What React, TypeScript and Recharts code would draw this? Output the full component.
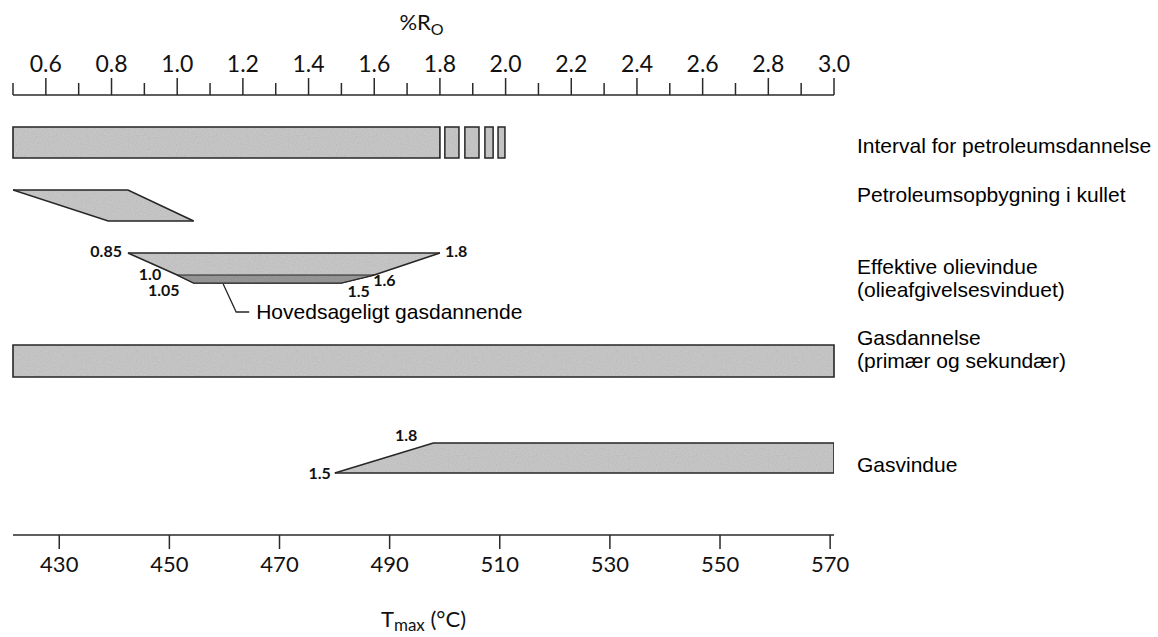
import React from "react";
import {
  ComposedChart,
  XAxis,
  YAxis,
  Area,
  ReferenceArea,
  ReferenceDot,
} from "recharts";

const CHART_WIDTH = 1158;
const CHART_HEIGHT = 637;

// %Ro-akse (top)
const RO_TICKS = [
  0.5, 0.6, 0.7, 0.8, 0.9, 1.0, 1.1, 1.2, 1.3, 1.4, 1.5, 1.6, 1.7, 1.8, 1.9,
  2.0, 2.1, 2.2, 2.3, 2.4, 2.5, 2.6, 2.7, 2.8, 2.9, 3.0,
];
const RO_LABELED = [0.6, 0.8, 1.0, 1.2, 1.4, 1.6, 1.8, 2.0, 2.2, 2.4, 2.6, 2.8, 3.0];

// Tmax-akse (bund)
const TMAX_TICKS = [430, 450, 470, 490, 510, 530, 550, 570];

// Interval for petroleumsdannelse
const INTERVAL_MAIN = [0.5, 1.8];
const INTERVAL_BLOCKS = [
  [1.815, 1.858],
  [1.876, 1.919],
  [1.937, 1.962],
  [1.977, 1.998],
];

// Petroleumsopbygning i kullet (parallelogram)
const BUILDUP_TOP = [0.5, 0.85];
const BUILDUP_BOTTOM = [0.79, 1.05];

// Effektive olievindue
const OIL_TOP = [0.85, 1.8];
const OIL_SHELF = [1.0, 1.6];
const OIL_BOTTOM = [1.05, 1.5];
const GAS_LEADER_RO = 1.14;

// Gasdannelse
const GAS_FORMATION = [0.5, 3.0];

// Gasvindue
const GAS_WINDOW = [1.48, 1.78, 3.0];
const GAS_WINDOW_TEXT = ["1.5", "1.8"];

const LANE_LABELS = [
  ["Interval for petroleumsdannelse"],
  ["Petroleumsopbygning i kullet"],
  ["Effektive olievindue", "(olieafgivelsesvinduet)"],
  ["Gasdannelse", "(primær og sekundær)"],
  ["Gasvindue"],
];

// layout: lodret placering i "bane"-enheder (0 = top-akse, 44 = bund-akse)
const LANE = {
  interval: [3.2, 6.3],
  buildup: [9.5, 12.6],
  oil: [15.8, 18.0, 18.8],
  gasForm: [25.0, 28.2],
  gasWin: [34.8, 37.8],
};
const LABEL_POS = [5.2, 10.1, 17.3, 24.4, 37.1];

const FILL = "url(#grain)";
const DARK_FILL = "url(#grainDark)";
const EDGE = "#262626";
const AXIS = "#2a2a2a";
const NUM_FONT = "Lato, 'Open Sans', sans-serif";
const TEXT_FONT = "'Liberation Sans', Arial, sans-serif";

// ranged area data (lo, hi) for the polygons
const [bTop, bBot] = LANE.buildup;
const buildupData = [
  { ro: BUILDUP_TOP[0], band: [bTop, bTop] },
  { ro: BUILDUP_BOTTOM[0], band: [bBot, bTop] },
  { ro: BUILDUP_TOP[1], band: [bBot, bTop] },
  { ro: BUILDUP_BOTTOM[1], band: [bBot, bBot] },
];

const [oTop, oMid, oBot] = LANE.oil;
const oilData = [
  { ro: OIL_TOP[0], band: [oTop, oTop] },
  { ro: OIL_SHELF[0], band: [oMid, oTop] },
  { ro: OIL_BOTTOM[0], band: [oBot, oTop] },
  { ro: OIL_BOTTOM[1], band: [oBot, oTop] },
  { ro: OIL_SHELF[1], band: [oMid, oTop] },
  { ro: OIL_TOP[1], band: [oTop, oTop] },
];
const gasBandData = [
  { ro: OIL_SHELF[0], band: [oMid, oMid] },
  { ro: OIL_BOTTOM[0], band: [oBot, oMid] },
  { ro: OIL_BOTTOM[1], band: [oBot, oMid] },
  { ro: OIL_SHELF[1], band: [oMid, oMid] },
];

const [gTop, gBot] = LANE.gasWin;
const gasWindowData = [
  { ro: GAS_WINDOW[0], band: [gBot, gBot] },
  { ro: GAS_WINDOW[1], band: [gBot, gTop] },
  { ro: GAS_WINDOW[2], band: [gBot, gTop] },
  { ro: GAS_WINDOW[2], band: [gBot, gBot] },
];

// talmærker ved hjørnerne
const NOTES = [
  { ro: OIL_TOP[0], y: oTop, text: "0.85", anchor: "end", dx: -6, dy: 0 },
  { ro: OIL_TOP[1], y: oTop, text: "1.8", anchor: "start", dx: 5, dy: 0 },
  { ro: OIL_SHELF[0], y: oMid, text: "1.0", anchor: "end", dx: -16, dy: 1 },
  { ro: OIL_BOTTOM[0], y: oBot, text: "1.05", anchor: "end", dx: -14, dy: 9 },
  { ro: OIL_BOTTOM[1], y: oBot, text: "1.5", anchor: "start", dx: 6, dy: 10 },
  { ro: OIL_SHELF[1], y: oMid, text: "1.6", anchor: "start", dx: -1, dy: 7 },
  { ro: GAS_WINDOW[0], y: gBot, text: GAS_WINDOW_TEXT[0], anchor: "end", dx: -4, dy: 2 },
  { ro: GAS_WINDOW[1], y: gTop, text: GAS_WINDOW_TEXT[1], anchor: "end", dx: -16, dy: -6 },
];

function RoTick(props: any) {
  const { x, y, payload } = props;
  const v = payload.value;
  const major = RO_LABELED.some((m) => Math.abs(m - v) < 1e-6);
  return (
    <g>
      <line x1={x} y1={y} x2={x} y2={y - (major ? 17 : 12)} stroke={AXIS} strokeWidth={1.5} />
      {major && (
        <text x={x} y={y - 23} textAnchor="middle" fontFamily={NUM_FONT} fontSize={23} fill="#111">
          {v.toFixed(1)}
        </text>
      )}
    </g>
  );
}

function TmaxTick(props: any) {
  const { x, y, payload } = props;
  return (
    <g>
      <line x1={x} y1={y} x2={x} y2={y + 14} stroke={AXIS} strokeWidth={1.5} />
      <text x={x} y={y + 37} textAnchor="middle" fontFamily={NUM_FONT} fontSize={22} fill="#111">
        {payload.value}
      </text>
    </g>
  );
}

function LaneTick(props: any) {
  const { x, y, payload } = props;
  const idx = LABEL_POS.indexOf(payload.value);
  const lines = LANE_LABELS[idx] || [];
  return (
    <g>
      {lines.map((line, i) => (
        <text
          key={i}
          x={x + 23}
          y={y + i * 23}
          dominantBaseline="middle"
          fontFamily={TEXT_FONT}
          fontSize={21}
          fill="#000"
        >
          {line}
        </text>
      ))}
    </g>
  );
}

function RoTitle(props: any) {
  const vb = props.viewBox || { x: 13, y: 0, width: 821, height: 95 };
  return (
    <text x={vb.x + vb.width / 2 - 2} y={vb.y + 30} textAnchor="middle" fontFamily={NUM_FONT} fontSize={22} fill="#111">
      <tspan>%R</tspan>
      <tspan dy={5} fontSize={16}>O</tspan>
    </text>
  );
}

function TmaxTitle(props: any) {
  const vb = props.viewBox || { x: 13, y: 535, width: 821, height: 102 };
  return (
    <text x={vb.x + vb.width / 2} y={vb.y + 92} textAnchor="middle" fontFamily={NUM_FONT} fontSize={22} fill="#111">
      <tspan>T</tspan>
      <tspan dy={4} fontSize={17}>max</tspan>
      <tspan dy={-4}> (°C)</tspan>
    </text>
  );
}

function Note(note: (typeof NOTES)[number]) {
  return (p: any) => (
    <text
      x={p.cx + note.dx}
      y={p.cy + note.dy}
      textAnchor={note.anchor}
      dominantBaseline="middle"
      fontFamily={NUM_FONT}
      fontWeight="bold"
      fontSize={16}
      fill="#111"
    >
      {note.text}
    </text>
  );
}

function Leader(p: any) {
  const { cx, cy } = p;
  return (
    <g>
      <path
        d={`M${cx},${cy + 1} L${cx + 13},${cy + 29} L${cx + 26},${cy + 29}`}
        fill="none"
        stroke={EDGE}
        strokeWidth={1.3}
      />
      <text x={cx + 33} y={cy + 30} dominantBaseline="middle" fontFamily={TEXT_FONT} fontSize={21} fill="#000">
        Hovedsageligt gasdannende
      </text>
    </g>
  );
}

export default function App() {
  return (
    <div style={{ position: "absolute", left: 0, top: 0 }}>
      <ComposedChart
        width={CHART_WIDTH}
        height={CHART_HEIGHT}
        margin={{ top: 0, right: 0, bottom: 0, left: 13 }}
      >
        <defs>
          <filter id="noise" x="0" y="0" width="100%" height="100%">
            <feTurbulence type="fractalNoise" baseFrequency="0.85" numOctaves="2" seed="4" />
            <feColorMatrix type="saturate" values="0" />
          </filter>
          <pattern id="grain" width="160" height="160" patternUnits="userSpaceOnUse">
            <rect width="160" height="160" fill="#c4c4c4" />
            <rect width="160" height="160" filter="url(#noise)" opacity="0.3" />
          </pattern>
          <pattern id="grainDark" width="160" height="160" patternUnits="userSpaceOnUse">
            <rect width="160" height="160" fill="#8e8e8e" />
            <rect width="160" height="160" filter="url(#noise)" opacity="0.25" />
          </pattern>
        </defs>
        <XAxis
          xAxisId="ro"
          orientation="top"
          type="number"
          dataKey="ro"
          domain={[0.5, 3.0]}
          allowDataOverflow
          ticks={RO_TICKS}
          interval={0}
          height={95}
          tickSize={0}
          tickMargin={0}
          tickLine={false}
          tick={<RoTick />}
          axisLine={{ stroke: AXIS, strokeWidth: 1.5 }}
          label={(p: any) => <RoTitle {...p} />}
        />
        <XAxis
          xAxisId="t"
          orientation="bottom"
          type="number"
          dataKey="t"
          domain={[421.6, 570.7]}
          allowDataOverflow
          ticks={TMAX_TICKS}
          interval={0}
          height={102}
          tickSize={0}
          tickMargin={0}
          tickLine={false}
          tick={<TmaxTick />}
          axisLine={{ stroke: AXIS, strokeWidth: 1.5 }}
          label={(p: any) => <TmaxTitle {...p} />}
        />
        <YAxis
          yAxisId="lane"
          orientation="right"
          type="number"
          domain={[0, 44]}
          reversed
          allowDataOverflow
          ticks={LABEL_POS}
          interval={0}
          width={324}
          tickSize={0}
          tickMargin={0}
          tickLine={false}
          axisLine={false}
          tick={<LaneTick />}
        />

        {/* Interval for petroleumsdannelse */}
        <ReferenceArea
          xAxisId="ro"
          yAxisId="lane"
          x1={INTERVAL_MAIN[0]}
          x2={INTERVAL_MAIN[1]}
          y1={LANE.interval[0]}
          y2={LANE.interval[1]}
          fill={FILL}
          fillOpacity={1}
          stroke={EDGE}
          strokeWidth={1.6}
          ifOverflow="visible"
        />
        {INTERVAL_BLOCKS.map(([a, b], i) => (
          <ReferenceArea
            key={i}
            xAxisId="ro"
            yAxisId="lane"
            x1={a}
            x2={b}
            y1={LANE.interval[0]}
            y2={LANE.interval[1]}
            fill={FILL}
            fillOpacity={1}
            stroke={EDGE}
            strokeWidth={1.5}
            ifOverflow="visible"
          />
        ))}

        {/* Petroleumsopbygning i kullet */}
        <Area
          xAxisId="ro"
          yAxisId="lane"
          data={buildupData}
          dataKey="band"
          type="linear"
          fill={FILL}
          fillOpacity={1}
          stroke={EDGE}
          strokeWidth={1.6}
          dot={false}
          activeDot={false}
          isAnimationActive={false}
        />

        {/* Effektive olievindue */}
        <Area
          xAxisId="ro"
          yAxisId="lane"
          data={oilData}
          dataKey="band"
          type="linear"
          fill={FILL}
          fillOpacity={1}
          stroke={EDGE}
          strokeWidth={1.6}
          dot={false}
          activeDot={false}
          isAnimationActive={false}
        />
        <Area
          xAxisId="ro"
          yAxisId="lane"
          data={gasBandData}
          dataKey="band"
          type="linear"
          fill={DARK_FILL}
          fillOpacity={1}
          stroke={EDGE}
          strokeWidth={1.2}
          dot={false}
          activeDot={false}
          isAnimationActive={false}
        />

        {/* Gasdannelse */}
        <ReferenceArea
          xAxisId="ro"
          yAxisId="lane"
          x1={GAS_FORMATION[0]}
          x2={GAS_FORMATION[1]}
          y1={LANE.gasForm[0]}
          y2={LANE.gasForm[1]}
          fill={FILL}
          fillOpacity={1}
          stroke={EDGE}
          strokeWidth={1.6}
          ifOverflow="visible"
        />

        {/* Gasvindue */}
        <Area
          xAxisId="ro"
          yAxisId="lane"
          data={gasWindowData}
          dataKey="band"
          type="linear"
          fill={FILL}
          fillOpacity={1}
          stroke={EDGE}
          strokeWidth={1.6}
          dot={false}
          activeDot={false}
          isAnimationActive={false}
        />

        {NOTES.map((n, i) => (
          <ReferenceDot
            key={i}
            xAxisId="ro"
            yAxisId="lane"
            x={n.ro}
            y={n.y}
            r={0}
            ifOverflow="visible"
            shape={Note(n)}
          />
        ))}
        <ReferenceDot
          xAxisId="ro"
          yAxisId="lane"
          x={GAS_LEADER_RO}
          y={oBot}
          r={0}
          ifOverflow="visible"
          shape={Leader}
        />
      </ComposedChart>
    </div>
  );
}
